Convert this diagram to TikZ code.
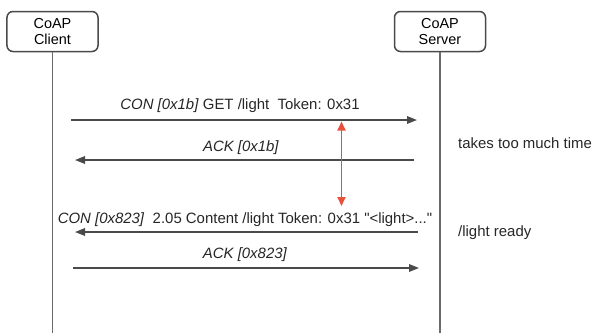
\documentclass[tikz,border=0pt]{standalone}
\usepackage{fontspec}
\setmainfont{Liberation Sans}[Ligatures=TeXOff]
\usetikzlibrary{arrows.meta}
\definecolor{boxline}{HTML}{4A4A4A}
\definecolor{lifeline}{HTML}{6A6A6A}
\definecolor{msgline}{HTML}{4A4A4A}
\definecolor{redarrow}{HTML}{E8503A}
\tikzset{
  actor/.style={draw=boxline, line width=1.5bp, rounded corners=6bp, minimum width=91bp, minimum height=40bp, align=center, font=\fontsize{14.5}{16.5}\selectfont, inner sep=0pt},
  life/.style={draw=lifeline, line width=1.8bp},
  msg/.style={draw=msgline, line width=1.6bp},
  msghead/.style={msg, -{Triangle[length=10bp,width=7.5bp]}},
  lbl/.style={font=\fontsize{15}{17}\selectfont, text=black!85, inner sep=0pt},
  note/.style={font=\fontsize{15}{17}\selectfont, text=black!85, inner sep=0pt, anchor=west},
  delay/.style={draw=redarrow, line width=1.8bp, {Triangle[length=9bp,width=8bp]}-{Triangle[length=9bp,width=8bp]}}
}
\begin{document}
\begin{tikzpicture}[x=1bp,y=-1bp]
\useasboundingbox (0,0) rectangle (594,333);
% actors
\node[actor] (client) at (52.5,31.5) {CoAP\\Client};
\node[actor] (server) at (440,31.5) {CoAP\\Server};
\coordinate (clientend) at (52.5,333);
\coordinate (serverend) at (440,333);
\draw[life] (client.south) -- (clientend);
\draw[life] (server.south) -- (serverend);
% message 1
\coordinate (m1a) at (71,120);
\coordinate (m1b) at (417,120);
\draw[msghead] (m1a) -- (m1b);
\node[lbl] (l1) at (240,105.5) {\textit{CON [0x1b]} GET /light\ \ Token: 0x31};
% message 2
\coordinate (m2a) at (414,160);
\coordinate (m2b) at (75,160);
\draw[msghead] (m2a) -- (m2b);
\node[lbl] (l2) at (241,147.5) {\textit{ACK [0x1b]}};
% message 3
\coordinate (m3a) at (418,232);
\coordinate (m3b) at (75,232);
\draw[msghead] (m3a) -- (m3b);
\node[lbl] (l3) at (245,219.5) {\textit{CON [0x823]}\ \ 2.05 Content /light Token: 0x31 "<light>..."};
% message 4
\coordinate (m4a) at (73,268);
\coordinate (m4b) at (419,268);
\draw[msghead] (m4a) -- (m4b);
\node[lbl] (l4) at (245,254.5) {\textit{ACK [0x823]}};
% delay arrow
\coordinate (d1) at (341.5,121.5);
\coordinate (d2) at (341.5,206);
\draw[delay] (d1) -- (d2);
% notes
\node[note] (n1) at (458,143) {takes too much time};
\node[note] (n2) at (458,233) {/light ready};
\end{tikzpicture}
\end{document}
